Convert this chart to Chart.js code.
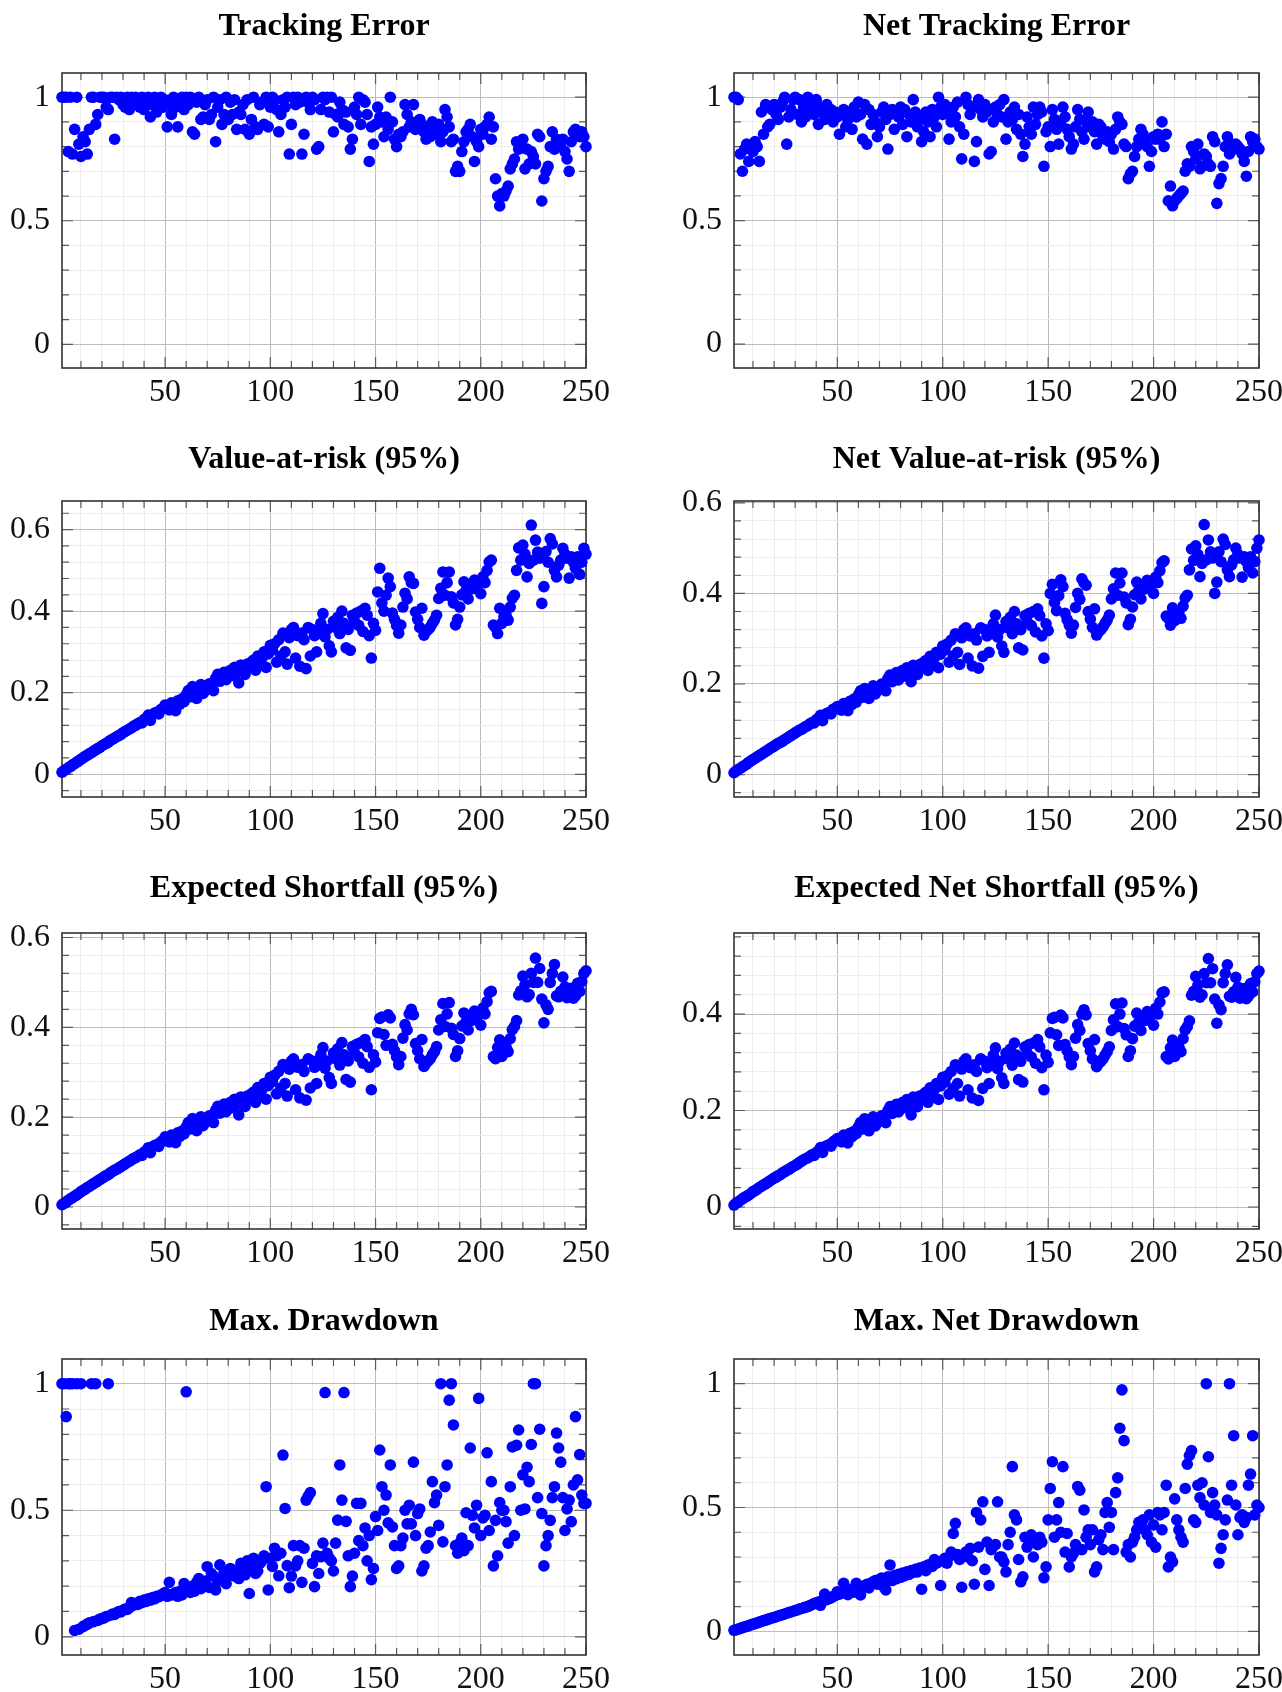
<!DOCTYPE html>
<html lang="en">
<head>
  <meta charset="UTF-8" />
  <title>Risk measures by portfolio size</title>
  <script src="https://cdn.jsdelivr.net/npm/chart.js"></script>
  <style>
    html, body { margin: 0; padding: 0; background: #fff; overflow: hidden; }
    body { width: 1282px; height: 1692px; position: relative; }
    canvas { position: absolute; }
  </style>
</head>
<body>

  <canvas id="c0"></canvas>
  <canvas id="c1"></canvas>
  <canvas id="c2"></canvas>
  <canvas id="c3"></canvas>
  <canvas id="c4"></canvas>
  <canvas id="c5"></canvas>
  <canvas id="c6"></canvas>
  <canvas id="c7"></canvas>

  <script>
  // ---- data (one value per x = 1..250) ----
  const trackingError = [
    1.00, 1.00, 1.00, 0.78, 1.00, 0.77, 0.87, 1.00, 0.81, 0.76,
    0.84, 0.82, 0.77, 0.87, 1.00, 1.00, 0.89, 0.93, 1.00, 1.00,
    1.00, 0.96, 0.95, 1.00, 1.00, 0.83, 1.00, 0.99, 1.00, 0.97,
    0.96, 1.00, 0.95, 1.00, 0.99, 1.00, 0.97, 0.96, 1.00, 0.95,
    0.98, 1.00, 0.92, 0.97, 1.00, 0.94, 0.99, 1.00, 0.96, 0.99,
    0.88, 0.97, 0.93, 1.00, 0.96, 0.88, 0.98, 1.00, 0.95, 1.00,
    0.97, 1.00, 0.86, 0.85, 0.98, 1.00, 0.91, 0.92, 0.97, 0.99,
    0.91, 0.93, 1.00, 0.82, 0.96, 0.99, 0.89, 0.93, 1.00, 0.91,
    0.98, 0.93, 0.99, 0.87, 0.94, 0.93, 0.97, 0.87, 0.99, 0.85,
    0.91, 1.00, 0.88, 0.87, 0.97, 0.98, 0.89, 1.00, 0.88, 0.96,
    1.00, 0.99, 0.95, 0.86, 0.93, 0.99, 0.96, 1.00, 0.77, 0.89,
    1.00, 0.97, 1.00, 0.98, 0.77, 0.85, 1.00, 0.98, 0.95, 1.00,
    0.99, 0.79, 0.80, 0.95, 1.00, 0.99, 1.00, 0.94, 1.00, 0.86,
    0.93, 0.92, 0.98, 0.95, 0.89, 0.94, 0.88, 0.79, 0.83, 0.96,
    0.93, 1.00, 0.89, 0.99, 0.98, 0.93, 0.74, 0.88, 0.81, 0.89,
    0.96, 0.92, 0.90, 0.84, 0.92, 0.87, 1.00, 0.90, 0.83, 0.80,
    0.85, 0.84, 0.86, 0.97, 0.93, 0.88, 0.90, 0.97, 0.87, 0.90,
    0.91, 0.89, 0.86, 0.83, 0.88, 0.84, 0.90, 0.87, 0.85, 0.89,
    0.82, 0.86, 0.95, 0.92, 0.88, 0.82, 0.83, 0.70, 0.72, 0.70,
    0.78, 0.82, 0.86, 0.87, 0.89, 0.84, 0.74, 0.82, 0.80, 0.87,
    0.85, 0.88, 0.89, 0.92, 0.83, 0.88, 0.67, 0.60, 0.56, 0.61,
    0.60, 0.62, 0.64, 0.71, 0.73, 0.75, 0.82, 0.79, 0.80, 0.83,
    0.71, 0.79, 0.73, 0.78, 0.76, 0.73, 0.85, 0.84, 0.58, 0.67,
    0.70, 0.72, 0.80, 0.86, 0.79, 0.83, 0.81, 0.80, 0.83, 0.78,
    0.75, 0.70, 0.82, 0.86, 0.87, 0.85, 0.84, 0.86, 0.84, 0.80
  ];

  const netTrackingError = [
    1.00, 1.00, 0.99, 0.77, 0.70, 0.79, 0.81, 0.74, 0.80, 0.78,
    0.82, 0.80, 0.74, 0.94, 0.85, 0.97, 0.88, 0.89, 0.95, 0.97,
    0.93, 0.91, 0.96, 0.98, 1.00, 0.81, 0.92, 0.95, 0.99, 1.00,
    0.93, 0.99, 0.90, 0.96, 0.92, 1.00, 0.95, 0.97, 0.93, 0.99,
    0.89, 0.96, 0.94, 0.91, 0.97, 0.92, 0.95, 0.90, 0.94, 0.92,
    0.85, 0.93, 0.95, 0.88, 0.91, 0.94, 0.87, 0.96, 0.92, 0.98,
    0.93, 0.83, 0.97, 0.81, 0.95, 0.89, 0.93, 0.90, 0.84, 0.88,
    0.94, 0.96, 0.91, 0.79, 0.93, 0.95, 0.87, 0.94, 0.92, 0.96,
    0.89, 0.95, 0.84, 0.93, 0.90, 0.99, 0.94, 0.88, 0.91, 0.82,
    0.86, 0.94, 0.90, 0.84, 0.95, 0.92, 0.88, 1.00, 0.96, 0.93,
    0.97, 0.94, 0.83, 0.90, 0.96, 0.92, 0.98, 0.88, 0.75, 0.85,
    1.00, 0.97, 0.93, 0.96, 0.74, 0.82, 0.99, 0.95, 0.92, 0.97,
    0.94, 0.77, 0.78, 0.90, 0.96, 0.93, 0.97, 0.92, 0.99, 0.83,
    0.90, 0.94, 0.91, 0.96, 0.87, 0.93, 0.85, 0.76, 0.81, 0.92,
    0.88, 0.85, 0.96, 0.89, 0.93, 0.96, 0.94, 0.72, 0.86, 0.88,
    0.80, 0.95, 0.91, 0.87, 0.81, 0.89, 0.96, 0.92, 0.87, 0.84,
    0.79, 0.81, 0.88, 0.95, 0.91, 0.86, 0.83, 0.90, 0.94, 0.88,
    0.90, 0.86, 0.81, 0.89, 0.88, 0.84, 0.83, 0.86, 0.82, 0.85,
    0.79, 0.87, 0.92, 0.90, 0.89, 0.81, 0.80, 0.67, 0.69, 0.70,
    0.76, 0.80, 0.83, 0.87, 0.85, 0.82, 0.80, 0.72, 0.78, 0.84,
    0.83, 0.85, 0.83, 0.90, 0.80, 0.85, 0.58, 0.64, 0.56, 0.58,
    0.59, 0.60, 0.61, 0.62, 0.70, 0.73, 0.72, 0.80, 0.78, 0.75,
    0.81, 0.71, 0.72, 0.77, 0.76, 0.73, 0.72, 0.84, 0.82, 0.57,
    0.65, 0.67, 0.72, 0.80, 0.84, 0.77, 0.81, 0.79, 0.81, 0.80,
    0.79, 0.77, 0.74, 0.68, 0.78, 0.84, 0.82, 0.83, 0.80, 0.79
  ];

  const valueAtRisk = [
    .005, .009, .012, .016, .019, .023, .026, .030, .033, .037,
    .040, .044, .047, .050, .053, .057, .060, .063, .066, .070,
    .073, .076, .079, .083, .086, .089, .092, .095, .098, .102,
    .105, .108, .111, .114, .118, .120, .124, .127, .126, .134,
    .137, .145, .132, .146, .150, .152, .148, .159, .162, .170,
    .166, .158, .175, .168, .156, .180, .172, .185, .178, .195,
    .205, .190, .215, .200, .186, .210, .220, .198, .205, .212,
    .222, .215, .205, .235, .245, .228, .240, .250, .232, .248,
    .255, .242, .262, .250, .224, .268, .258, .245, .270, .262,
    .275, .280, .255, .290, .268, .285, .300, .262, .295, .316,
    .305, .320, .275, .330, .290, .346, .300, .270, .335, .355,
    .360, .285, .340, .265, .346, .330, .259, .360, .290, .355,
    .340, .300, .345, .370, .394, .337, .355, .315, .300, .375,
    .360, .385, .345, .400, .370, .310, .355, .304, .390, .375,
    .395, .365, .400, .350, .407, .390, .340, .285, .370, .353,
    .447, .505, .420, .400, .439, .481, .460, .395, .380, .365,
    .346, .366, .410, .444, .430, .484, .470, .468, .398, .380,
    .360, .407, .341, .350, .355, .361, .370, .378, .390, .431,
    .456, .496, .439, .470, .496, .435, .420, .366, .380, .410,
    .440, .472, .451, .430, .464, .455, .476, .460, .470, .443,
    .484, .470, .500, .521, .525, .366, .360, .345, .407, .370,
    .386, .390, .378, .410, .432, .439, .500, .555, .525, .562,
    .540, .484, .517, .611, .525, .574, .545, .530, .419, .460,
    .546, .520, .578, .565, .500, .484, .513, .525, .554, .540,
    .530, .481, .533, .520, .505, .533, .490, .520, .554, .540
  ];

  const netValueAtRisk = [
    .004, .008, .011, .014, .017, .020, .023, .027, .030, .033,
    .036, .039, .042, .045, .048, .051, .054, .057, .060, .063,
    .066, .069, .071, .074, .077, .080, .083, .086, .089, .092,
    .095, .098, .100, .103, .106, .108, .112, .115, .114, .121,
    .124, .131, .119, .132, .135, .137, .134, .144, .146, .150,
    .149, .142, .157, .151, .141, .162, .155, .167, .160, .176,
    .185, .171, .190, .180, .168, .189, .196, .178, .185, .192,
    .200, .194, .185, .212, .220, .205, .216, .225, .209, .223,
    .230, .218, .236, .225, .205, .241, .232, .221, .243, .236,
    .248, .252, .230, .261, .241, .257, .270, .236, .266, .284,
    .275, .288, .248, .297, .262, .311, .270, .243, .302, .320,
    .324, .257, .306, .240, .311, .297, .235, .324, .261, .320,
    .306, .270, .311, .333, .352, .304, .320, .284, .270, .338,
    .324, .347, .311, .360, .333, .280, .320, .275, .351, .338,
    .356, .329, .360, .315, .366, .351, .306, .257, .333, .318,
    .400, .420, .380, .362, .395, .430, .415, .356, .342, .330,
    .312, .330, .369, .400, .387, .432, .423, .418, .360, .343,
    .325, .366, .308, .316, .320, .326, .334, .341, .352, .388,
    .410, .445, .396, .423, .445, .392, .379, .331, .343, .370,
    .397, .425, .407, .388, .418, .410, .429, .415, .424, .400,
    .436, .424, .450, .468, .472, .350, .345, .330, .368, .340,
    .352, .358, .345, .372, .390, .396, .452, .498, .473, .505,
    .486, .437, .466, .552, .474, .518, .492, .478, .400, .425,
    .492, .470, .520, .508, .452, .437, .463, .474, .500, .487,
    .478, .436, .481, .470, .457, .481, .445, .470, .500, .518
  ];

  const expectedShortfall = [
    .005, .008, .011, .015, .018, .021, .024, .027, .030, .034,
    .037, .040, .043, .046, .049, .052, .055, .058, .061, .064,
    .067, .070, .072, .076, .079, .082, .084, .087, .090, .093,
    .096, .099, .102, .105, .108, .110, .113, .116, .115, .122,
    .125, .132, .121, .134, .137, .139, .135, .145, .148, .156,
    .152, .145, .160, .154, .143, .165, .157, .169, .163, .178,
    .188, .174, .197, .183, .170, .192, .201, .181, .188, .194,
    .203, .197, .188, .215, .224, .209, .220, .229, .212, .227,
    .233, .221, .240, .229, .205, .245, .236, .224, .247, .240,
    .252, .256, .233, .266, .245, .261, .275, .240, .270, .289,
    .279, .293, .252, .302, .265, .317, .275, .247, .307, .325,
    .330, .261, .311, .243, .317, .302, .238, .330, .265, .325,
    .311, .275, .316, .339, .355, .309, .325, .288, .275, .343,
    .330, .352, .316, .366, .339, .284, .325, .278, .357, .343,
    .362, .334, .366, .320, .373, .357, .311, .261, .339, .323,
    .388, .420, .423, .384, .360, .428, .421, .362, .348, .334,
    .317, .335, .376, .406, .394, .430, .440, .428, .364, .348,
    .330, .373, .313, .320, .325, .330, .339, .346, .357, .394,
    .417, .453, .402, .430, .455, .398, .384, .335, .348, .375,
    .403, .432, .413, .394, .425, .416, .436, .421, .430, .405,
    .443, .430, .457, .477, .480, .335, .330, .355, .372, .335,
    .352, .357, .346, .375, .395, .402, .415, .472, .481, .514,
    .495, .468, .473, .520, .500, .554, .500, .531, .463, .410,
    .450, .440, .500, .520, .540, .470, .468, .480, .512, .490,
    .466, .480, .487, .465, .470, .498, .480, .502, .520, .526
  ];

  const netExpectedShortfall = [
    .004, .008, .010, .014, .017, .020, .022, .025, .028, .032,
    .034, .037, .040, .043, .046, .048, .051, .054, .057, .060,
    .062, .065, .067, .071, .073, .076, .078, .081, .084, .086,
    .089, .092, .095, .098, .100, .102, .105, .108, .107, .113,
    .116, .123, .113, .125, .127, .129, .126, .135, .138, .142,
    .141, .135, .149, .143, .133, .153, .146, .157, .152, .166,
    .175, .162, .183, .170, .158, .179, .187, .168, .175, .180,
    .189, .183, .175, .200, .208, .194, .205, .213, .197, .211,
    .217, .206, .223, .213, .191, .228, .219, .208, .230, .223,
    .234, .238, .217, .247, .228, .243, .256, .223, .251, .269,
    .259, .272, .234, .281, .246, .295, .256, .230, .286, .302,
    .307, .243, .289, .226, .295, .281, .221, .307, .246, .302,
    .289, .256, .294, .315, .330, .287, .302, .268, .256, .319,
    .307, .327, .294, .340, .315, .264, .302, .259, .332, .319,
    .337, .311, .340, .298, .347, .332, .289, .243, .315, .300,
    .361, .391, .393, .357, .335, .398, .392, .337, .324, .311,
    .295, .312, .350, .378, .366, .400, .409, .398, .339, .324,
    .307, .347, .291, .298, .302, .307, .315, .322, .332, .366,
    .388, .421, .374, .400, .423, .370, .357, .312, .324, .349,
    .375, .402, .384, .366, .395, .387, .405, .392, .400, .377,
    .412, .400, .425, .444, .446, .312, .307, .330, .346, .312,
    .327, .332, .322, .349, .367, .374, .386, .439, .447, .478,
    .460, .435, .440, .484, .465, .515, .465, .494, .431, .381,
    .419, .409, .465, .484, .502, .437, .435, .446, .476, .456,
    .433, .446, .453, .432, .437, .463, .446, .467, .484, .489
  ];

  const maxDrawdown = [
    1.00, 1.00, 0.87, 1.00, 1.00, 1.00, 0.025, 1.00, 0.030, 1.00,
    0.040, 0.045, 0.050, 0.055, 1.00, 0.060, 1.00, 0.065, 0.070, 0.072,
    0.075, 0.080, 1.00, 0.085, 0.090, 0.088, 0.095, 0.100, 0.098, 0.105,
    0.110, 0.108, 0.115, 0.135, 0.125, 0.130, 0.128, 0.140, 0.135, 0.145,
    0.140, 0.150, 0.145, 0.155, 0.150, 0.160, 0.158, 0.165, 0.170, 0.175,
    0.160, 0.215, 0.165, 0.170, 0.175, 0.160, 0.180, 0.165, 0.210, 0.968,
    0.190, 0.175, 0.200, 0.180, 0.215, 0.230, 0.190, 0.205, 0.220, 0.277,
    0.195, 0.250, 0.240, 0.185, 0.220, 0.284, 0.230, 0.255, 0.210, 0.245,
    0.270, 0.264, 0.240, 0.255, 0.230, 0.290, 0.280, 0.245, 0.300, 0.171,
    0.270, 0.310, 0.250, 0.260, 0.290, 0.300, 0.320, 0.593, 0.185, 0.310,
    0.278, 0.350, 0.320, 0.241, 0.330, 0.718, 0.507, 0.281, 0.194, 0.240,
    0.360, 0.280, 0.300, 0.360, 0.215, 0.350, 0.540, 0.556, 0.570, 0.290,
    0.198, 0.320, 0.250, 0.316, 0.370, 0.965, 0.330, 0.310, 0.300, 0.260,
    0.370, 0.461, 0.679, 0.540, 0.965, 0.456, 0.320, 0.198, 0.240, 0.330,
    0.527, 0.380, 0.527, 0.360, 0.430, 0.300, 0.400, 0.226, 0.270, 0.475,
    0.420, 0.738, 0.593, 0.500, 0.560, 0.450, 0.679, 0.434, 0.360, 0.270,
    0.280, 0.360, 0.390, 0.500, 0.446, 0.520, 0.446, 0.690, 0.400, 0.487,
    0.505, 0.260, 0.280, 0.350, 0.360, 0.414, 0.613, 0.530, 0.560, 0.440,
    1.00, 0.375, 0.593, 0.679, 0.935, 1.00, 0.837, 0.360, 0.330, 0.370,
    0.390, 0.340, 0.490, 0.360, 0.746, 0.480, 0.430, 0.520, 0.942, 0.400,
    0.470, 0.480, 0.727, 0.420, 0.613, 0.280, 0.460, 0.320, 0.530, 0.500,
    0.500, 0.455, 0.370, 0.593, 0.750, 0.400, 0.757, 0.817, 0.500, 0.640,
    0.505, 0.670, 0.613, 0.760, 1.00, 1.00, 0.550, 0.820, 0.487, 0.280,
    0.360, 0.400, 0.460, 0.550, 0.593, 0.805, 0.746, 0.690, 0.550, 0.420,
    0.505, 0.540, 0.455, 0.600, 0.870, 0.620, 0.720, 0.560, 0.527, 0.527
  ];

  const netMaxDrawdown = [
    .004, .006, .009, .012, .015, .018, .020, .023, .026, .029,
    .031, .034, .037, .040, .043, .045, .048, .051, .054, .056,
    .059, .062, .065, .067, .070, .073, .076, .078, .081, .084,
    .086, .090, .092, .095, .098, .100, .104, .108, .112, .115,
    .118, .105, .125, .150, .128, .132, .135, .140, .145, .160,
    .150, .155, .194, .160, .148, .165, .170, .158, .194, .175,
    .147, .180, .185, .190, .175, .195, .200, .205, .190, .210,
    .215, .180, .167, .220, .268, .205, .225, .212, .230, .218,
    .235, .225, .240, .230, .245, .238, .250, .240, .255, .170,
    .260, .245, .268, .270, .262, .290, .275, .280, .185, .285,
    .295, .275, .300, .320, .395, .436, .310, .290, .178, .305,
    .320, .300, .335, .285, .190, .480, .340, .450, .523, .250,
    .360, .185, .330, .345, .350, .523, .300, .300, .280, .240,
    .350, .400, .665, .470, .450, .290, .200, .220, .380, .340,
    .370, .390, .300, .360, .350, .380, .360, .216, .260, .450,
    .577, .685, .380, .450, .520, .400, .665, .320, .395, .260,
    .300, .315, .350, .585, .570, .330, .490, .380, .410, .350,
    .410, .240, .260, .370, .390, .330, .480, .520, .420, .480,
    .330, .560, .620, .820, .975, .770, .320, .350, .300, .360,
    .380, .410, .440, .430, .450, .410, .390, .470, .360, .430,
    .340, .480, .470, .410, .480, .590, .260, .300, .280, .535,
    .450, .410, .380, .360, .577, .675, .710, .730, .450, .440,
    .590, .540, .600, .510, 1.000, .705, .480, .560, .510, .470,
    .275, .335, .390, .450, .530, 1.000, .590, .790, .510, .390,
    .460, .470, .440, .460, .590, .635, .790, .470, .510, .500
  ];

  // ---- axis ticks ----
  const xTicksMajor = [50, 100, 150, 200, 250];
  const xTicksMinor = [10, 20, 30, 40, 60, 70, 80, 90, 110, 120, 130, 140, 160, 170, 180, 190, 210, 220, 230, 240];
  const xTickLabels = ['50', '100', '150', '200', '250'];

  const unitTicksMajor = [0, 0.5, 1];
  const unitTicksMinor = [0.1, 0.2, 0.3, 0.4, 0.6, 0.7, 0.8, 0.9];
  const unitTickLabels = ['0', '0.5', '1'];

  const riskTicksMajor = [0, 0.2, 0.4, 0.6];
  const riskTicksMinor = [-0.04, 0.04, 0.08, 0.12, 0.16, 0.24, 0.28, 0.32, 0.36, 0.44, 0.48, 0.52, 0.56, 0.64];
  const riskTickLabels = ['0', '0.2', '0.4', '0.6'];

  // ---- layout (pixel boxes of each plot area) ----
  const cols = [
    { left: 0, width: 641, plotLeft: 62, plotRight: 586 },
    { left: 641, width: 641, plotLeft: 734, plotRight: 1259 }
  ];
  const rows = [
    { top: 73, bottom: 368, titleGap: 46 },
    { top: 501, bottom: 797, titleGap: 41 },
    { top: 933, bottom: 1229, titleGap: 44 },
    { top: 1359, bottom: 1655, titleGap: 37 }
  ];

  const panels = [
    { title: 'Tracking Error', values: trackingError, row: 0, col: 0, min: -0.096, max: 1.098, major: unitTicksMajor, minor: unitTicksMinor, labels: unitTickLabels },
    { title: 'Net Tracking Error', values: netTrackingError, row: 0, col: 1, min: -0.097, max: 1.098, major: unitTicksMajor, minor: unitTicksMinor, labels: unitTickLabels },
    { title: 'Value-at-risk (95%)', values: valueAtRisk, row: 1, col: 0, min: -0.0557, max: 0.670, major: riskTicksMajor, minor: riskTicksMinor, labels: riskTickLabels },
    { title: 'Net Value-at-risk (95%)', values: netValueAtRisk, row: 1, col: 1, min: -0.0495, max: 0.604, major: riskTicksMajor, minor: riskTicksMinor, labels: riskTickLabels },
    { title: 'Expected Shortfall (95%)', values: expectedShortfall, row: 2, col: 0, min: -0.049, max: 0.610, major: riskTicksMajor, minor: riskTicksMinor, labels: riskTickLabels },
    { title: 'Expected Net Shortfall (95%)', values: netExpectedShortfall, row: 2, col: 1, min: -0.0456, max: 0.568, major: riskTicksMajor, minor: riskTicksMinor, labels: riskTickLabels },
    { title: 'Max. Drawdown', values: maxDrawdown, row: 3, col: 0, min: -0.072, max: 1.0976, major: unitTicksMajor, minor: unitTicksMinor, labels: unitTickLabels },
    { title: 'Max. Net Drawdown', values: netMaxDrawdown, row: 3, col: 1, min: -0.0957, max: 1.0997, major: unitTicksMajor, minor: unitTicksMinor, labels: unitTickLabels }
  ];

  const TOP_ROOM = 60;     // space above plot for the title
  const XAXIS_H = 36;      // space below plot for x labels
  const tickFont = { family: 'Liberation Serif', size: 32 };

  function inList(v, list) {
    return list.some(m => Math.abs(m - v) < 1e-9);
  }

  // title drawn above each plot area
  const panelTitle = {
    id: 'panelTitle',
    afterDraw(chart, args, opts) {
      const { ctx, chartArea } = chart;
      ctx.save();
      ctx.font = 'bold 32px "Liberation Serif"';
      ctx.fillStyle = '#000';
      ctx.textAlign = 'center';
      ctx.textBaseline = 'middle';
      ctx.fillText(opts.text, (chartArea.left + chartArea.right) / 2, chartArea.top - opts.gap);
      ctx.restore();
    }
  };

  // box frame + inward tick marks on all four sides (pgfplots look)
  const axisFrame = {
    id: 'axisFrame',
    beforeDatasetsDraw(chart, args, opts) {
      const { ctx, chartArea: a, scales } = chart;
      ctx.save();
      ctx.strokeStyle = '#5a5a5a';
      ctx.lineWidth = 1.2;
      ctx.beginPath();
      scales.x.ticks.forEach(t => {
        const px = scales.x.getPixelForValue(t.value);
        const len = inList(t.value, xTicksMajor) ? 11 : 7;
        ctx.moveTo(px, a.bottom); ctx.lineTo(px, a.bottom - len);
        ctx.moveTo(px, a.top); ctx.lineTo(px, a.top + len);
      });
      scales.y.ticks.forEach(t => {
        const py = scales.y.getPixelForValue(t.value);
        const len = inList(t.value, opts.major) ? 11 : 7;
        ctx.moveTo(a.left, py); ctx.lineTo(a.left + len, py);
        ctx.moveTo(a.right, py); ctx.lineTo(a.right - len, py);
      });
      ctx.stroke();
      ctx.strokeStyle = '#333';
      ctx.lineWidth = 1.6;
      ctx.strokeRect(a.left, a.top, a.right - a.left, a.bottom - a.top);
      ctx.restore();
    }
  };

  panels.forEach((p, i) => {
    const c = cols[p.col];
    const r = rows[p.row];
    const canvas = document.getElementById('c' + i);
    const h = (r.bottom - r.top) + TOP_ROOM + XAXIS_H;
    canvas.width = c.width;
    canvas.height = h;
    canvas.style.left = c.left + 'px';
    canvas.style.top = (r.top - TOP_ROOM) + 'px';
    canvas.style.width = c.width + 'px';
    canvas.style.height = h + 'px';

    const yTicks = p.major.concat(p.minor).filter(v => v >= p.min && v <= p.max);
    const xTicks = xTicksMajor.concat(xTicksMinor);

    new Chart(canvas.getContext('2d'), {
      type: 'scatter',
      data: {
        datasets: [{
          data: p.values.map((v, k) => ({ x: k + 1, y: v })),
          backgroundColor: '#0000ff',
          borderWidth: 0,
          pointRadius: 5.8,
          pointHoverRadius: 5.8,
          clip: false
        }]
      },
      options: {
        responsive: false,
        animation: false,
        devicePixelRatio: 1,
        events: [],
        layout: {
          padding: { top: TOP_ROOM, left: 0, bottom: 0, right: c.width - (c.plotRight - c.left) }
        },
        plugins: {
          legend: { display: false },
          tooltip: { enabled: false },
          panelTitle: { text: p.title, gap: r.titleGap },
          axisFrame: { major: p.major }
        },
        scales: {
          x: {
            type: 'linear',
            min: 1,
            max: 250,
            afterBuildTicks: s => { s.ticks = xTicks.map(v => ({ value: v })); },
            afterFit: s => { s.height = XAXIS_H; s.paddingLeft = 0; s.paddingRight = 0; },
            border: { display: false },
            grid: {
              drawTicks: false,
              lineWidth: 1,
              color: ctx => (ctx.tick && inList(ctx.tick.value, xTicksMajor)) ? '#bdbdbd' : '#ededed'
            },
            ticks: {
              autoSkip: false,
              maxRotation: 0,
              padding: 5,
              color: '#111',
              font: tickFont,
              callback: v => {
                const k = xTicksMajor.findIndex(m => Math.abs(m - v) < 1e-9);
                return k >= 0 ? xTickLabels[k] : '';
              }
            }
          },
          y: {
            type: 'linear',
            min: p.min,
            max: p.max,
            afterBuildTicks: s => { s.ticks = yTicks.map(v => ({ value: v })); },
            afterFit: s => { s.width = c.plotLeft - c.left; s.paddingTop = 0; s.paddingBottom = 0; },
            border: { display: false },
            grid: {
              drawTicks: false,
              lineWidth: 1,
              color: ctx => (ctx.tick && inList(ctx.tick.value, p.major)) ? '#bdbdbd' : '#ededed'
            },
            ticks: {
              autoSkip: false,
              padding: 12,
              color: '#111',
              font: tickFont,
              callback: v => {
                const k = p.major.findIndex(m => Math.abs(m - v) < 1e-9);
                return k >= 0 ? p.labels[k] : '';
              }
            }
          }
        }
      },
      plugins: [panelTitle, axisFrame]
    });
  });
  </script>

</body>
</html>
